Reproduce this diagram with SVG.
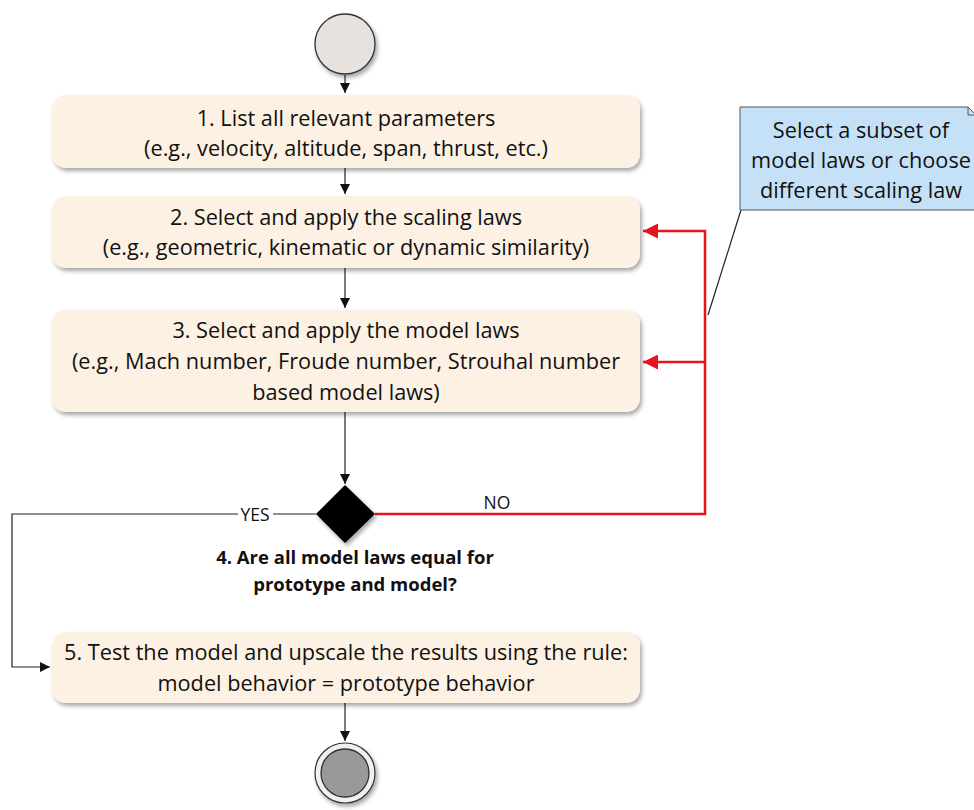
<svg xmlns="http://www.w3.org/2000/svg" width="974" height="810" viewBox="0 0 974 810">
<defs>
<style>
.box{fill:#FDF1E3;stroke:none;filter:url(#sh)}
.t{font-family:"Open Sans","Liberation Sans",sans-serif;font-size:21.7px;fill:#111;text-anchor:middle}
.b{font-family:"Open Sans","Liberation Sans",sans-serif;font-size:18.5px;font-weight:bold;fill:#111;text-anchor:middle}
.l{font-family:"Open Sans","Liberation Sans",sans-serif;font-size:17.5px;fill:#111;text-anchor:middle}
.c{fill:none;stroke:#222;stroke-width:1.2}
.r{fill:none;stroke:#E8141B;stroke-width:2.5}
</style>
<filter id="sh" x="-10%" y="-20%" width="120%" height="150%">
<feGaussianBlur in="SourceAlpha" stdDeviation="2"/>
<feOffset dx="2" dy="3" result="o"/>
<feComponentTransfer><feFuncA type="linear" slope="0.35"/></feComponentTransfer>
<feMerge><feMergeNode/><feMergeNode in="SourceGraphic"/></feMerge>
</filter>
<marker id="ab" viewBox="0 0 10 10" refX="10" refY="5" markerWidth="10" markerHeight="10" markerUnits="userSpaceOnUse" orient="auto"><path d="M0,0 L10,5 L0,10 z" fill="#111"/></marker>
<marker id="ar" viewBox="0 0 10 10" refX="10" refY="5" markerWidth="15" markerHeight="15" markerUnits="userSpaceOnUse" orient="auto"><path d="M0,0 L10,5 L0,10 z" fill="#E8141B"/></marker>
</defs>
<rect width="974" height="810" fill="#fff"/>

<g id="connectors">
<path class="c" d="M345,75 V93" marker-end="url(#ab)"/>
<path class="c" d="M345,168 V194" marker-end="url(#ab)"/>
<path class="c" d="M345,268 V308" marker-end="url(#ab)"/>
<path class="c" d="M345,412 V484" marker-end="url(#ab)"/>
<path class="c" d="M345,703 V741" marker-end="url(#ab)"/>
<path class="c" d="M316,514 H12 V667 H50" marker-end="url(#ab)"/>
<path class="r" d="M375,514 H705 V231 H643" marker-end="url(#ar)"/>
<path class="r" d="M705,362 H643" marker-end="url(#ar)"/>
<path class="c" d="M708,315 L741,210" stroke-width="1"/>
<rect x="238" y="505" width="35" height="18" fill="#fff"/>
<text class="l" x="255" y="521">YES</text>
<text class="l" x="497" y="509">NO</text>
</g>

<g id="start">
<circle cx="345" cy="44" r="30" fill="#E7E2DE" stroke="#333" stroke-width="1.3" filter="url(#sh)"/>
</g>

<g id="step1">
<rect class="box" x="52" y="95" width="588" height="73" rx="14"/>
<text class="t" x="346" y="126">1. List all relevant parameters</text>
<text class="t" x="346" y="156">(e.g., velocity, altitude, span, thrust, etc.)</text>
</g>

<g id="step2">
<rect class="box" x="52" y="196" width="588" height="72" rx="14"/>
<text class="t" x="346" y="225">2. Select and apply the scaling laws</text>
<text class="t" x="346" y="255">(e.g., geometric, kinematic or dynamic similarity)</text>
</g>

<g id="step3">
<rect class="box" x="52" y="310" width="588" height="102" rx="14"/>
<text class="t" x="346" y="338">3. Select and apply the model laws</text>
<text class="t" x="346" y="369">(e.g., Mach number, Froude number, Strouhal number</text>
<text class="t" x="346" y="400">based model laws)</text>
</g>

<g id="decision">
<path d="M345,485 L375,514 L345,543 L316,514 Z" fill="#000" filter="url(#sh)"/>
<text class="b" x="355" y="564">4. Are all model laws equal for</text>
<text class="b" x="355" y="591">prototype and model?</text>
</g>

<g id="step5">
<rect class="box" x="52" y="632" width="588" height="71" rx="14"/>
<text class="t" x="346" y="660">5. Test the model and upscale the results using the rule:</text>
<text class="t" x="346" y="691">model behavior = prototype behavior</text>
</g>

<g id="end">
<circle cx="345" cy="773" r="30" fill="#F0F0F0" stroke="#333" stroke-width="1.2" filter="url(#sh)"/>
<circle cx="345" cy="773" r="24" fill="#999" stroke="#333" stroke-width="1.3"/>
</g>

<g id="note">
<path d="M740,107 H968 L976,115 V210 H740 Z" fill="#C5E1F7" stroke="#555" stroke-width="1"/>
<path d="M968,107 V115 H976" fill="none" stroke="#555" stroke-width="1"/>
<text class="t" x="861" y="138">Select a subset of</text>
<text class="t" x="861" y="168">model laws or choose</text>
<text class="t" x="861" y="198">different scaling law</text>
</g>
</svg>
